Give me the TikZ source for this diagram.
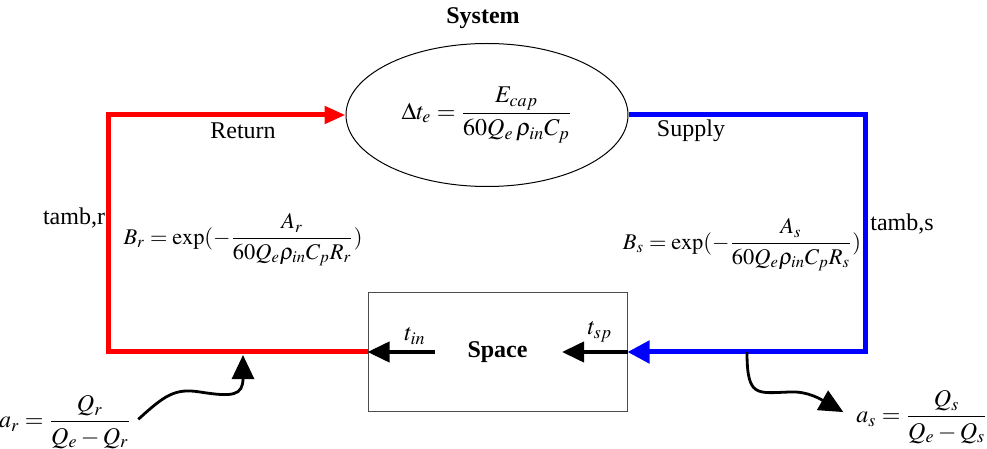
\documentclass[tikz,border=0pt]{standalone}
\usepackage{amsmath}
\usepackage{mathptmx}
\usepackage{fontspec}
\setmainfont{Liberation Serif}
\usepackage{tikz}
\usetikzlibrary{arrows.meta, shapes.geometric, positioning}

\tikzset{
  retline/.style={draw=red, line width=2.5pt, -{Triangle[length=10.5pt, width=8.5pt]}},
  supline/.style={draw=blue, line width=2.5pt, -{Triangle[length=11pt, width=11pt]}},
  tarrow/.style={draw=black, line width=2pt, -{Triangle[length=11pt, width=10pt]}},
  wavyarrow/.style={draw=black, line width=1.4pt, -{Triangle[length=12pt, width=11pt]}},
  lossformula/.style={font=\fontsize{11.2}{13}\selectfont, inner sep=1pt},
}

\begin{document}
\begin{tikzpicture}[x=0.5pt, y=-0.5pt, every node/.style={font=\fontsize{12}{14}\selectfont}]
  \useasboundingbox (0,0) rectangle (987,449);
  \node[font=\fontsize{12}{14}\selectfont\bfseries] (systitle) at (483,18) {System};
  \node[ellipse, draw, line width=0.5pt, minimum width=141pt, minimum height=71.5pt, inner sep=0pt] (sys) at (487,115) {$\Delta t_e=\dfrac{E_{cap}}{60Q_e\,\rho_{in}C_p}$};
  \node[draw=gray!60!black, line width=0.5pt, minimum width=129.5pt, minimum height=59pt, font=\fontsize{12}{14}\selectfont\bfseries] (space) at (497.5,352) {Space};
  \coordinate (rtop) at (108,115);
  \coordinate (scorner) at (865,352);
  \coordinate (tinfrom) at (435,352);
  \coordinate (tspto) at (562,352);
  \coordinate (rjoin) at (243,355);
  \coordinate (sjoin) at (747,352);
  \draw[retline] (space.west) -| (rtop) -- (sys.west);
  \draw[supline] (sys.east) -| (scorner) -- (space.east);
  \draw[tarrow] (tinfrom) -- (space.west);
  \draw[tarrow] (space.east) -- (tspto);
  \node (retlbl) at (243,131) {Return};
  \node (suplbl) at (691,131) {Supply};
  \node (tambr) at (74,218) {tamb,r};
  \node (tambs) at (902,224) {tamb,s};
  \node[lossformula] (bret) at (243,240) {$B_r=\exp(-\dfrac{A_r}{60Q_e\rho_{in}C_pR_r})$};
  \node[lossformula] (bsup) at (742,245) {$B_s=\exp(-\dfrac{A_s}{60Q_e\rho_{in}C_pR_s})$};
  \node (tin) at (415,336) {$t_{in}$};
  \node (tsp) at (600,332) {$t_{sp}$};
  \node[inner sep=2pt] (ar) at (65,422) {$a_r=\dfrac{Q_r}{Q_e-Q_r}$};
  \node[inner sep=2pt] (as) at (922,417) {$a_s=\dfrac{Q_s}{Q_e-Q_s}$};
  \draw[wavyarrow, shorten <=2pt] (ar.east) .. controls (165,395) and (175,388) .. (200,392) .. controls (232,397) and (243,396) .. (rjoin);
  \draw[wavyarrow, shorten >=5pt] (sjoin) .. controls (747,398) and (757,393) .. (790,392) .. controls (808,391) and (822,400) .. (as.west);
\end{tikzpicture}
\end{document}
